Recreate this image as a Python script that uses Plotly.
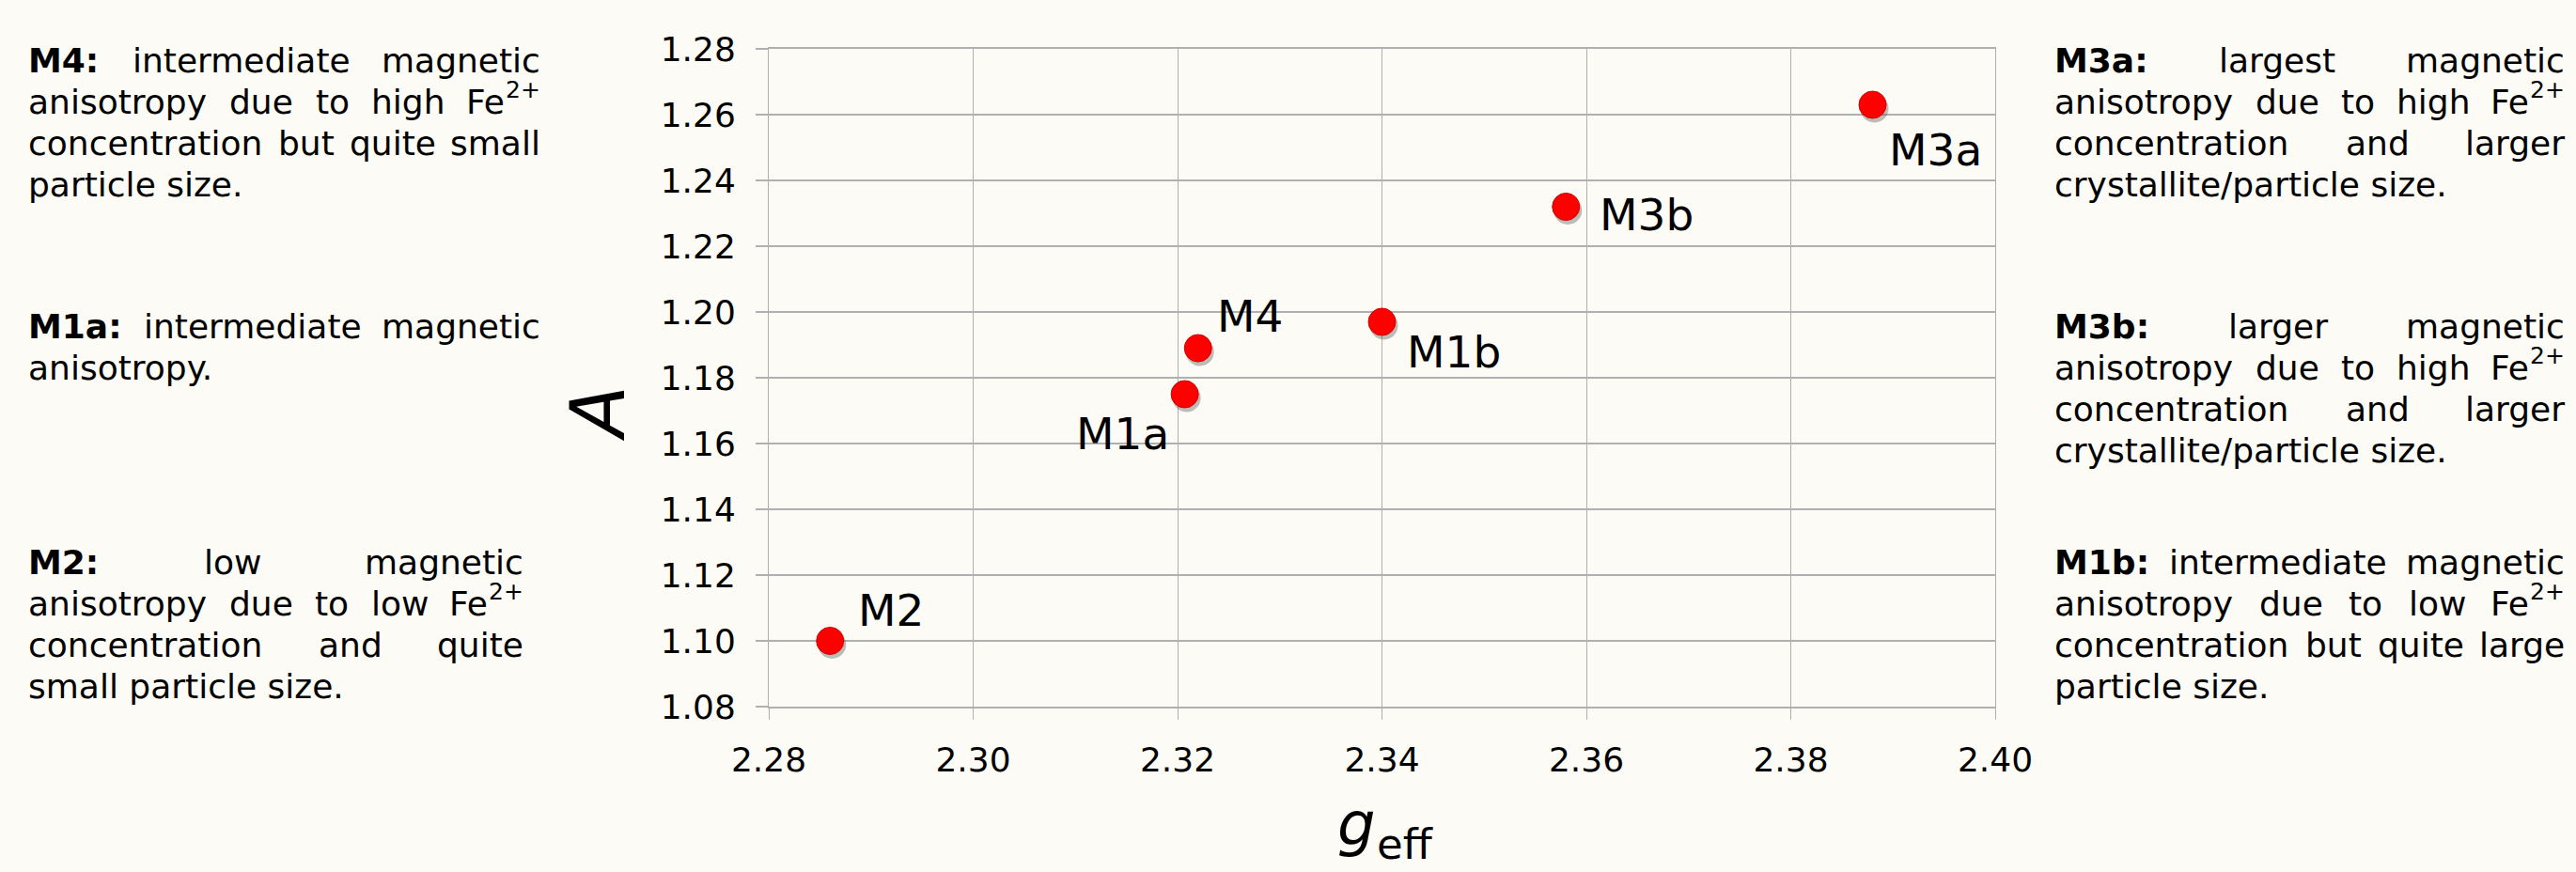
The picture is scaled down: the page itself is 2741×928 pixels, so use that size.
import plotly.graph_objects as go

# ---------------- data ----------------
samples = ["M2", "M1a", "M4", "M1b", "M3b", "M3a"]
g_eff = [2.286, 2.3207, 2.322, 2.340, 2.358, 2.388]
A_vals = [1.100, 1.175, 1.189, 1.197, 1.232, 1.263]

x_ticks = [2.28, 2.30, 2.32, 2.34, 2.36, 2.38, 2.40]
y_ticks = [1.08, 1.10, 1.12, 1.14, 1.16, 1.18, 1.20, 1.22, 1.24, 1.26, 1.28]

FE = "Fe^2+"   # '^' marks a superscript
desc_M4 = ["intermediate magnetic", "anisotropy due to high " + FE,
           "concentration but quite small", "particle size."]
desc_M1a = ["intermediate magnetic", "anisotropy."]
desc_M2 = ["low magnetic", "anisotropy due to low " + FE,
           "concentration and quite", "small particle size."]
desc_M3a = ["largest magnetic", "anisotropy due to high " + FE,
            "concentration and larger", "crystallite/particle size."]
desc_M3b = ["larger magnetic", "anisotropy due to high " + FE,
            "concentration and larger", "crystallite/particle size."]
desc_M1b = ["intermediate magnetic", "anisotropy due to low " + FE,
            "concentration but quite large", "particle size."]

# ---------------- layout geometry (pixels) ----------------
W, H = 2741, 928
PL, PR, PT, PB = 818, 2123, 52, 752
FONT = "DejaVu Sans"
TXT = 36
SUP = 25
LINE = 44


def px_x(px):
    return (px - PL) / (PR - PL)


def px_y(py):
    return (PB - py) / (PB - PT)


REG = {'a': 1255, 'b': 1300, 'c': 1126, 'd': 1300, 'e': 1260, 'f': 721, 'g': 1300,
       'h': 1298, 'i': 569, 'j': 569, 'k': 1186, 'l': 569, 'm': 1995, 'n': 1298,
       'o': 1253, 'p': 1300, 'q': 1300, 'r': 842, 's': 1067, 't': 803, 'u': 1298,
       'v': 1212, 'w': 1675, 'x': 1212, 'y': 1212, 'z': 1075, '.': 651, ':': 690,
       '/': 690, 'F': 1178, 'M': 1767, ' ': 651, '+': 1716}
BOLD = {'M': 2031, 'a': 1382, 'b': 1466, ':': 819}
for d in "0123456789":
    REG[d] = 1303
    BOLD[d] = 1425


def width(word, size, bold=False):
    tab = BOLD if bold else REG
    if "^" in word:
        base, sup = word.split("^")
        return width(base, size) + width(sup, SUP)
    return sum(tab.get(c, 1200) for c in word) / 2048.0 * size


annotations = []


def add_text(text, px, py, anchor="left", size=TXT, bold=False, italic=False, angle=0):
    annotations.append(dict(
        text=text, x=px_x(px), y=px_y(py), xref="paper", yref="paper",
        xanchor=anchor, yanchor="middle", showarrow=False, borderpad=0,
        textangle=angle,
        font=dict(family=FONT, size=size, color="black",
                  weight="bold" if bold else "normal",
                  style="italic" if italic else "normal")))


def add_block(label, lines, left, right, base):
    for i, line in enumerate(lines):
        baseline = base + i * LINE
        cy = baseline - 0.35 * TXT
        words = [(w, False) for w in line.split(" ")]
        if i == 0:
            words = [(label + ":", True)] + words
        last = i == len(lines) - 1
        if last:
            if words[0][1]:
                add_text(words[0][0], left, cy, "left", bold=True)
                rest = " ".join(w for w, _ in words[1:])
                add_text(rest, left + width(words[0][0], TXT, True) + width(" ", TXT), cy)
            else:
                add_text(line, left, cy, "left")
            continue
        total = sum(width(w, TXT, b) for w, b in words)
        gap = (right - left - total) / (len(words) - 1)
        x = left
        for j, (w, b) in enumerate(words):
            if j == len(words) - 1:
                if "^" in w:
                    base_w, sup = w.split("^")
                    add_text(sup, right, baseline - 0.47 * TXT - 0.35 * SUP, "right", size=SUP)
                    add_text(base_w, right - width(sup, SUP) - 1, cy, "right")
                else:
                    add_text(w, right, cy, "right", bold=b)
            else:
                add_text(w, x, cy, "left", bold=b)
            x += width(w, TXT, b) + gap


add_block("M4", desc_M4, 29, 576, 77)
add_block("M1a", desc_M1a, 29, 576, 360)
add_block("M2", desc_M2, 29, 558, 611)
add_block("M3a", desc_M3a, 2185, 2730, 77)
add_block("M3b", desc_M3b, 2185, 2730, 360)
add_block("M1b", desc_M1b, 2185, 2730, 611)

# data point labels
label_pos = {  # xanchor, xshift, yshift (pixels)
    "M2": ("left", 29, 33), "M1a": ("right", -16, -42), "M4": ("left", 19, 34),
    "M1b": ("left", 25, -32), "M3b": ("left", 35, -8), "M3a": ("left", 16, -48),
}
for s, gx, ay in zip(samples, g_eff, A_vals):
    xa, xs, ys = label_pos[s]
    annotations.append(dict(
        text=s, x=gx, y=ay, xref="x", yref="y", xanchor=xa, yanchor="middle",
        xshift=xs, yshift=ys, showarrow=False, borderpad=0,
        font=dict(family=FONT, size=47, color="black")))

# axis titles
add_text("A", 636, 440, "center", size=80, italic=True, angle=-90)
G_SIZE, SUB_SIZE = 64, 45
g_left = 1422
add_text("g", g_left, 899 - 0.35 * G_SIZE, "left", size=G_SIZE, italic=True)
add_text("eff", g_left + 42, 898, "left", size=SUB_SIZE)

# ---------------- figure ----------------
fig = go.Figure()
# soft drop shadow under markers
dx = 2 * 0.12 / (PR - PL)
dy = 4 * 0.20 / (PB - PT)
fig.add_trace(go.Scatter(
    x=[g + dx for g in g_eff], y=[a - dy for a in A_vals], mode="markers",
    marker=dict(size=30, color="rgba(70,70,70,0.35)", line=dict(width=0)),
    hoverinfo="skip", showlegend=False))
fig.add_trace(go.Scatter(
    x=g_eff, y=A_vals, mode="markers", text=samples,
    marker=dict(size=29, color="#FF0000", line=dict(width=1, color="#D00000")),
    showlegend=False))

grid = "#B0B0B0"
fig.update_layout(
    width=W, height=H,
    margin=dict(l=PL, r=W - PR, t=PT, b=H - PB),
    paper_bgcolor="#FCFBF6", plot_bgcolor="#FCFBF6",
    font=dict(family=FONT, color="black"),
    annotations=annotations,
    xaxis=dict(range=[2.28, 2.40], tickvals=x_ticks, tickformat=".2f",
               showgrid=True, gridcolor=grid, gridwidth=1,
               showline=True, linecolor=grid, linewidth=2, mirror=True,
               ticks="outside", ticklen=12, tickcolor=grid, tickwidth=1,
               tickfont=dict(family=FONT, size=36, color="black"),
               ticklabelstandoff=12, zeroline=False),
    yaxis=dict(range=[1.08, 1.28], tickvals=y_ticks, tickformat=".2f",
               showgrid=True, gridcolor=grid, gridwidth=2,
               showline=True, linecolor=grid, linewidth=1, mirror=True,
               ticks="outside", ticklen=13, tickcolor=grid, tickwidth=2,
               tickfont=dict(family=FONT, size=36, color="black"),
               ticklabelstandoff=14, zeroline=False),
)

fig.write_html("out.html", config={"displayModeBar": False},
               post_script="document.body.style.margin='0';"
                           "document.body.style.overflow='hidden';")
